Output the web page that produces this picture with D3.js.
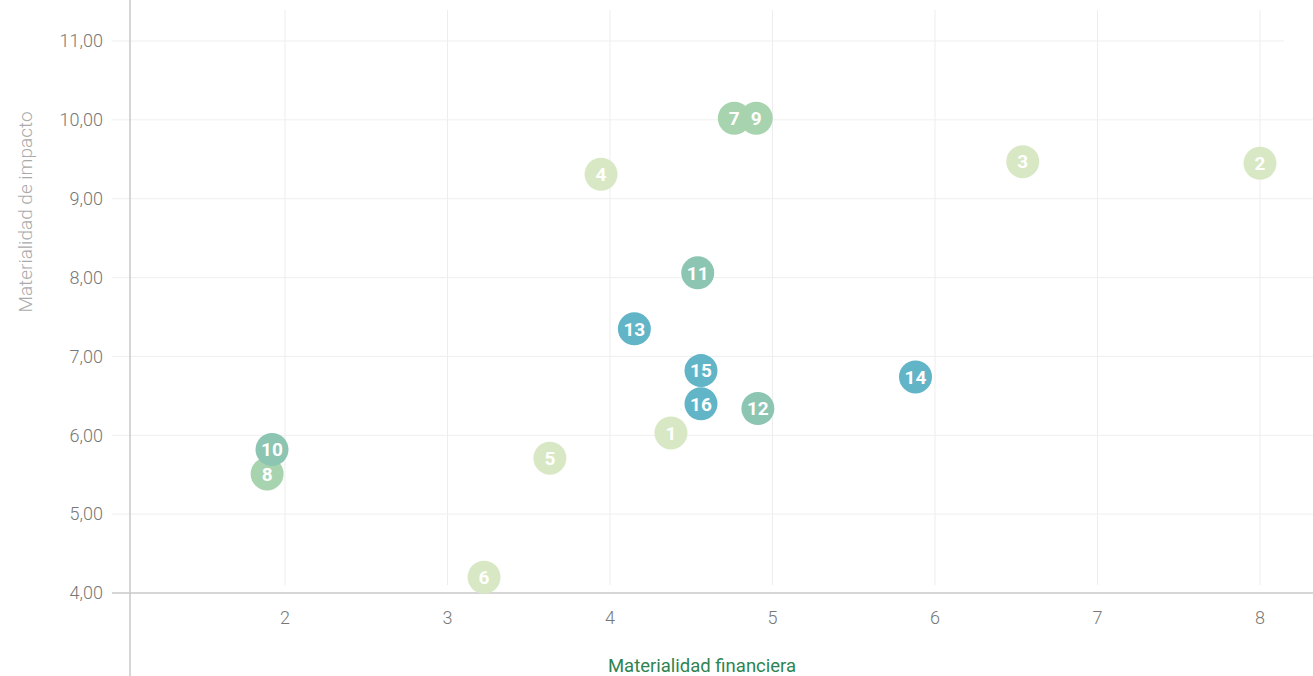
<!DOCTYPE html>
<html><head><meta charset="utf-8">
<script src="https://cdn.jsdelivr.net/npm/d3@7"></script>
<style>
html,body{margin:0;padding:0;background:#fff;}
svg{display:block;font-family:Roboto,"Noto Sans",sans-serif;}
</style></head>
<body><svg id="c" width="1313" height="676"></svg>
<script>
const ids    = ["1","2","3","4","5","6","7","8","9","10","11","12","13","14","15","16"];
const finVals = [4.375,8.0,6.54,3.945,3.63,3.225,4.765,1.89,4.90,1.92,4.54,4.91,4.15,5.88,4.56,4.56];
const impVals = [6.03,9.45,9.47,9.31,5.71,4.20,10.02,5.51,10.02,5.82,8.06,6.34,7.35,6.74,6.82,6.40];
const groups  = [0,0,0,0,0,0,1,1,1,2,2,2,3,3,3,3];
const groupColors = ["#d8e8c5","#a7d4ae","#8cc5b1","#62b4c7"];
const xTicks = [2,3,4,5,6,7,8];
const yTicks = [4,5,6,7,8,9,10,11];
const xTitle = "Materialidad financiera";
const yTitle = "Materialidad de impacto";

const svg = d3.select("#c");
const x = d3.scaleLinear().domain([2,8]).range([285,1260]);
const y = d3.scaleLinear().domain([4,11]).range([593,41]);

svg.append("g").selectAll("line").data(xTicks).join("line")
  .attr("x1",d=>x(d)).attr("x2",d=>x(d)).attr("y1",10).attr("y2",585)
  .attr("stroke","#ededed").attr("stroke-width",1);
svg.append("g").selectAll("line").data(yTicks.filter(d=>d>4)).join("line")
  .attr("x1",112).attr("x2",d=>d===11?1284:1313).attr("y1",d=>y(d)).attr("y2",d=>y(d))
  .attr("stroke","#efefef").attr("stroke-width",1);

svg.append("line").attr("x1",130).attr("x2",130).attr("y1",0).attr("y2",676)
  .attr("stroke","#c8c8c8").attr("stroke-width",1.5);
svg.append("line").attr("x1",112).attr("x2",1313).attr("y1",y(4)).attr("y2",y(4))
  .attr("stroke","#c8c8c8").attr("stroke-width",1.5);

const fmt = d=>d3.format(".2f")(d).replace(".",",");
svg.append("g").selectAll("text").data(yTicks).join("text")
  .attr("x",103).attr("y",d=>y(d)).attr("dy","0.35em").attr("text-anchor","end")
  .attr("font-size",18).attr("font-weight",300).attr("fill","#777").text(fmt);
svg.append("g").selectAll("text").data(xTicks).join("text")
  .attr("x",d=>x(d)).attr("y",618).attr("dy","0.35em").attr("text-anchor","middle")
  .attr("font-size",18).attr("font-weight",300).attr("fill","#777").text(d=>d);

svg.append("text").attr("x",702).attr("y",666).attr("dy","0.35em").attr("text-anchor","middle")
  .attr("font-size",18.5).attr("font-weight",400).attr("fill","#2e8450").text(xTitle);
svg.append("text").attr("transform","translate(25,212) rotate(-90)").attr("dy","0.35em")
  .attr("text-anchor","middle").attr("font-size",19).attr("font-weight",300).attr("fill","#aaa").text(yTitle);

const pts = ids.map((id,i)=>({id,fx:finVals[i],iy:impVals[i],g:groups[i]}));
const pg = svg.append("g").selectAll("g").data(pts).join("g")
  .attr("transform",d=>`translate(${x(d.fx)},${y(d.iy)})`);
pg.append("circle").attr("r",16.5).attr("fill",d=>groupColors[d.g]);
pg.append("text").attr("text-anchor","middle").attr("dy","0.36em")
  .attr("font-size",19).attr("font-weight",700).attr("fill","#fff").text(d=>d.id);
</script></body></html>
